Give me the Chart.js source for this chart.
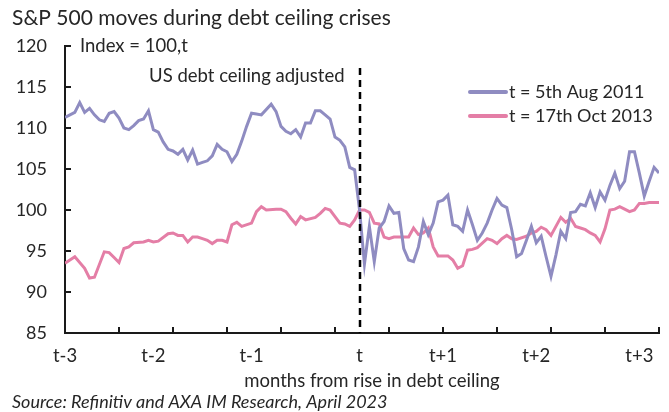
<!DOCTYPE html>
<html>
<head>
<meta charset="utf-8">
<script src="https://cdn.jsdelivr.net/npm/chart.js@4.4.1/dist/chart.umd.min.js"></script>
<style>
html,body{margin:0;padding:0;background:#fff;}
#wrap{width:669px;height:412px;position:relative;}
</style>
</head>
<body>
<div id="wrap"><canvas id="c" width="669" height="412"></canvas></div>
<script>
// ---- texts ----
const chartTitle = 'S&P 500 moves during debt ceiling crises';
const yAxisNote = 'Index = 100,t';
const eventLabel = 'US debt ceiling adjusted';
const xAxisTitle = 'months from rise in debt ceiling';
const sourceNote = 'Source: Refinitiv and AXA IM Research, April 2023';
const seriesNames = ['t = 5th Aug 2011', 't = 17th Oct 2013'];

// ---- x axis: trading days relative to t ----
const tickDays = [-60, -42, -22, 0, 17, 36, 57];
const tickLabels = ['t-3', 't-2', 't-1', 't', 't+1', 't+2', 't+3'];
const eventDay = 0;
const yTickValues = [85, 90, 95, 100, 105, 110, 115, 120];

// ---- series: t = 5th Aug 2011 ----
const aug2011Days = [-60,-58,-57,-56,-55,-54,-53,-52,-51,-50,-49,-48,-47,-46,-45,-44,-43,-42,-41,-40,
  -39,-38,-37,-36,-35,-34,-33,-32,-31,-30,-29,-28,-27,-26,-25,-24,-23,-22,-21,-20,
  -18,-17,-16,-15,-14,-13,-12,-11,-10,-9,-8,-7,-6,-5,-4,-3,-2,-1,0,
  1,2,3,4,5,6,7,8,9,10,11,12,13,14,15,16,17,18,19,20,21,22,23,24,25,26,27,28,29,30,
  31,32,33,34,35,36,37,38,39,40,41,42,43,44,45,46,47,48,49,50,51,52,53,54,55,56,57,58,59,60,61];
const aug2011Values = [111.3,111.9,113.1,111.9,112.4,111.6,111.0,110.8,111.8,112.0,111.2,110.0,109.8,110.3,110.9,111.1,112.1,109.8,109.5,108.3,
  107.4,107.2,106.8,107.4,106.1,107.3,105.6,105.8,106.0,106.6,108.0,107.4,107.1,105.9,106.8,108.4,110.2,111.8,111.7,111.6,
  112.9,112.0,110.2,109.6,109.3,109.8,108.9,110.6,110.6,112.1,112.1,111.6,111.1,108.9,108.5,107.7,105.2,104.9,100.0,
  93.4,98.0,93.7,97.8,98.6,100.5,99.6,99.7,95.3,93.9,93.7,95.5,98.6,97.0,98.4,101.0,101.2,101.8,98.2,98.0,97.4,100.0,98.2,96.3,97.2,98.4,100.0,101.4,100.6,100.3,
  97.6,94.3,94.7,96.3,98.0,96.0,96.8,94.3,91.9,94.5,97.4,96.5,99.7,99.8,100.7,100.5,102.1,100.3,102.2,101.2,103.0,104.5,102.6,103.5,107.1,107.1,104.5,101.7,103.5,105.2,104.5];

// ---- series: t = 17th Oct 2013 ----
const oct2013Days = [-60,-58,-56,-55,-54,-52,-51,-50,-49,-48,-47,-46,-44,-43,-42,-41,-39,-38,-37,-36,
  -35,-34,-33,-32,-31,-30,-29,-28,-27,-26,-25,-24,-22,-21,-20,-19,-17,-16,-15,-14,
  -13,-12,-11,-9,-8,-7,-6,-5,-4,-3,-2,-1,0,
  1,2,3,4,5,6,7,8,9,10,11,12,13,14,15,16,17,18,19,20,21,22,23,24,26,27,28,29,30,
  31,32,34,35,36,37,38,39,40,41,42,43,44,45,46,47,48,49,50,51,52,53,54,55,56,57,58,59,61];
const oct2013Values = [93.5,94.3,92.9,91.7,91.8,94.9,94.8,94.2,93.6,95.3,95.5,96.0,96.1,96.3,96.1,96.2,97.1,97.2,96.9,96.9,
  96.1,96.7,96.7,96.5,96.3,95.9,96.3,96.3,96.1,98.2,98.5,98.0,98.4,99.8,100.4,100.0,100.1,100.1,99.8,99.0,
  98.3,99.2,98.8,99.1,99.6,100.2,100.0,99.2,98.4,98.3,98.0,98.8,100.0,
  100.0,99.7,98.4,98.3,96.7,96.5,96.7,96.7,96.7,96.7,97.8,97.0,97.2,97.8,95.5,94.4,94.4,94.4,93.9,92.9,93.2,95.1,95.2,95.4,96.5,96.3,95.9,96.5,96.9,
  96.5,96.4,96.8,97.2,97.4,97.9,97.6,96.9,98.0,99.1,98.5,99.0,98.0,97.8,97.6,97.2,96.9,96.1,97.7,100.0,100.1,100.4,100.1,99.8,100.0,100.8,100.8,100.9,100.9];

const seriesColors = ['#8f8cc1', '#e47ea6'];
const textColor = '#262626';
const axisColor = '#1a1a1a';
const fontFamily = 'Lato, "Open Sans", sans-serif';

Chart.defaults.font.family = fontFamily;
Chart.defaults.color = textColor;

const toXY = (days, vals) => days.map((d, i) => ({ x: d, y: vals[i] }));

const innerTicks = {
  id: 'innerTicks',
  afterDraw(chart) {
    const { ctx, chartArea, scales: { x, y } } = chart;
    ctx.save();
    ctx.strokeStyle = axisColor;
    ctx.lineWidth = 2;
    for (let d = x.min; d <= x.max + 0.01; d += 11) {
      const px = Math.round(x.getPixelForValue(d));
      ctx.beginPath(); ctx.moveTo(px, chartArea.bottom); ctx.lineTo(px, chartArea.bottom - 6); ctx.stroke();
    }
    yTickValues.forEach(v => {
      const py = Math.round(y.getPixelForValue(v));
      ctx.beginPath(); ctx.moveTo(chartArea.left, py); ctx.lineTo(chartArea.left + 6, py); ctx.stroke();
    });
    ctx.restore();
  }
};

const eventLine = {
  id: 'eventLine',
  afterDatasetsDraw(chart) {
    const { ctx, chartArea, scales: { x } } = chart;
    const px = Math.round(x.getPixelForValue(eventDay));
    ctx.save();
    ctx.strokeStyle = '#000';
    ctx.lineWidth = 2.5;
    ctx.setLineDash([7, 5]);
    ctx.beginPath(); ctx.moveTo(px, chartArea.top + 22); ctx.lineTo(px, chartArea.bottom); ctx.stroke();
    ctx.restore();
  }
};

const texts = {
  id: 'texts',
  afterDraw(chart) {
    const { ctx, scales: { x } } = chart;
    ctx.save();
    ctx.fillStyle = textColor;
    ctx.textBaseline = 'middle';
    ctx.textAlign = 'left';
    ctx.font = '21px ' + fontFamily;
    ctx.fillText(chartTitle, 12, 18);
    ctx.font = '18.5px ' + fontFamily;
    ctx.fillText(yAxisNote, 80, 46);
    ctx.textAlign = 'right';
    ctx.fillText(eventLabel, x.getPixelForValue(eventDay) - 15, 76);
    ctx.textAlign = 'center';
    ctx.fillText(xAxisTitle, 372, 381);
    ctx.textAlign = 'left';
    ctx.font = 'italic 18px ' + fontFamily;
    ctx.fillText(sourceNote, 12, 402);
    // legend
    ctx.font = '18px ' + fontFamily;
    chart.data.datasets.forEach((ds, i) => {
      const ly = 92 + i * 24;
      ctx.strokeStyle = ds.borderColor;
      ctx.lineWidth = 4;
      ctx.lineCap = 'round';
      ctx.beginPath(); ctx.moveTo(470, ly); ctx.lineTo(506, ly); ctx.stroke();
      ctx.fillStyle = textColor;
      ctx.fillText(ds.label, 509, ly);
    });
    ctx.restore();
  }
};

new Chart(document.getElementById('c'), {
  type: 'line',
  data: {
    datasets: [
      { label: seriesNames[0], data: toXY(aug2011Days, aug2011Values), borderColor: seriesColors[0], borderWidth: 3, pointRadius: 0, tension: 0 },
      { label: seriesNames[1], data: toXY(oct2013Days, oct2013Values), borderColor: seriesColors[1], borderWidth: 3, pointRadius: 0, tension: 0 }
    ]
  },
  options: {
    responsive: false,
    animation: false,
    devicePixelRatio: 1,
    layout: { padding: { left: 0, right: 10, top: 46, bottom: 45 } },
    plugins: { legend: { display: false }, title: { display: false }, tooltip: { enabled: false } },
    scales: {
      x: {
        type: 'linear', min: -60, max: 61,
        afterBuildTicks: s => { s.ticks = tickDays.map(v => ({ value: v })); },
        afterFit: s => { s.height = 34; s.paddingLeft = 0; s.paddingRight = 0; },
        ticks: {
          autoSkip: false, maxRotation: 0, padding: 12,
          font: { size: 18.5 }, color: textColor,
          callback: v => { const i = tickDays.indexOf(v); return i >= 0 ? tickLabels[i] : ''; }
        },
        grid: { display: false, drawTicks: false },
        border: { display: true, color: axisColor, width: 2 }
      },
      y: {
        min: 85, max: 120,
        afterBuildTicks: s => { s.ticks = yTickValues.map(v => ({ value: v })); },
        afterFit: s => { s.width = 65; s.paddingTop = 0; s.paddingBottom = 0; },
        ticks: { padding: 18, font: { size: 18 }, color: textColor },
        grid: { display: false, drawTicks: false },
        border: { display: true, color: axisColor, width: 2 }
      }
    }
  },
  plugins: [innerTicks, eventLine, texts]
});
</script>
</body>
</html>
